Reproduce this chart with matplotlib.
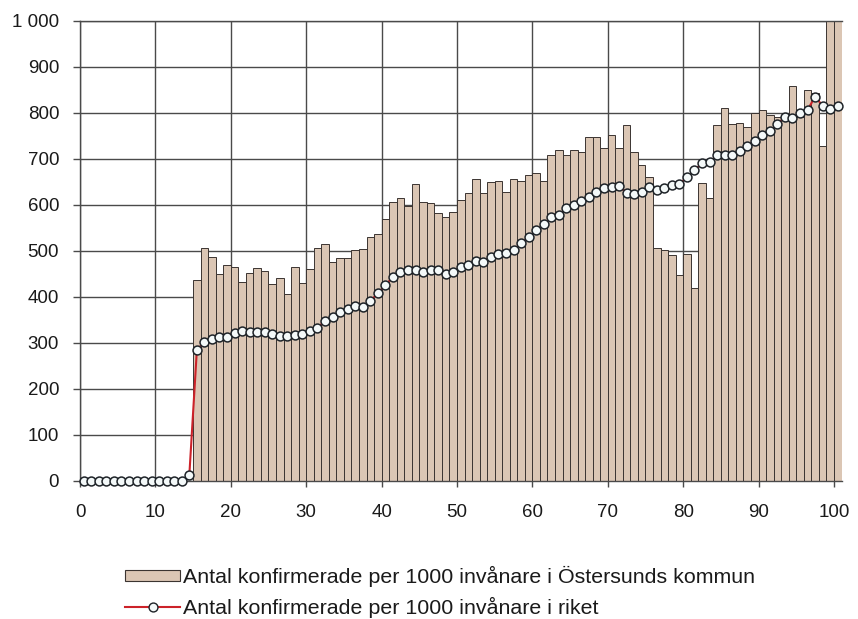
import matplotlib
matplotlib.use("Agg")
import matplotlib.pyplot as plt
from matplotlib.patches import Patch
from matplotlib.lines import Line2D
from matplotlib.ticker import FuncFormatter

plt.rcParams['font.family'] = ['Liberation Sans', 'DejaVu Sans']

# ---- data -------------------------------------------------------------
ages = list(range(101))

kommun = [0] * 15 + [
    436, 505, 486, 449, 469, 464, 431, 451, 462, 456,   # 15-24
    427, 440, 405, 464, 429, 460, 505, 514, 475, 485,   # 25-34
    485, 502, 503, 530, 536, 568, 605, 615, 598, 644,   # 35-44
    606, 603, 583, 574, 585, 610, 625, 656, 625, 650,   # 45-54
    651, 628, 655, 652, 665, 668, 652, 708, 719, 707,   # 55-64
    719, 714, 748, 748, 724, 752, 724, 773, 715, 686,   # 65-74
    660, 505, 501, 491, 447, 492, 418, 647, 615, 773,   # 75-84
    811, 775, 778, 770, 799, 806, 795, 791, 784, 859,   # 85-94
    791, 850, 842, 727, 1000, 1000,                     # 95-100
]

riket = [0] * 14 + [
    12,                                                 # 14
    284, 302, 308, 312, 313, 322, 326, 323, 324, 324,   # 15-24
    318, 315, 315, 316, 318, 326, 333, 347, 355, 366,   # 25-34
    373, 380, 378, 391, 407, 425, 443, 454, 457, 457,   # 35-44
    454, 459, 457, 449, 454, 464, 469, 478, 476, 487,   # 45-54
    493, 496, 502, 516, 529, 544, 557, 574, 578, 592,   # 55-64
    599, 607, 617, 628, 636, 638, 641, 626, 623, 628,   # 65-74
    638, 633, 637, 643, 645, 660, 675, 690, 693, 707,   # 75-84
    707, 707, 717, 728, 739, 751, 760, 775, 791, 788,   # 85-94
    800, 806, 835, 815, 807, 815,                       # 95-100
]

x_tick_labels = ["0", "10", "20", "30", "40", "50", "60", "70", "80", "90", "100"]
y_ticks = [0, 100, 200, 300, 400, 500, 600, 700, 800, 900, 1000]

label_kommun = "Antal konfirmerade per 1000 invånare i Östersunds kommun"
label_riket = "Antal konfirmerade per 1000 invånare i riket"

# ---- figure -----------------------------------------------------------
W, H = 858, 619
fig = plt.figure(figsize=(W / 100, H / 100), dpi=100)
fig.patch.set_facecolor("white")
ax = fig.add_axes([80 / W, 1 - 480.7 / H, (841.5 - 80) / W, (480.7 - 20.7) / H])

bar_color = "#dbc6b4"
bar_edge = "#3b3431"
line_color = "#cc2229"
marker_edge = "#1e2328"
marker_face = "#f4f9f9"
grid_color = "#4a4a4a"

ax.bar(ages, kommun, width=1.0, color=bar_color, edgecolor=bar_edge,
       linewidth=0.7, zorder=2)
ax.plot(ages, riket, color=line_color, lw=1.5, marker="o", ms=6.4,
        mfc=marker_face, mec=marker_edge, mew=1.1, zorder=3, clip_on=False)

ax.set_xlim(-0.5, 100.5)
ax.set_ylim(0, 1000)

xt = [10 * i - 0.5 for i in range(len(x_tick_labels))]
ax.set_xticks(xt)
ax.set_xticklabels(x_tick_labels)
ax.set_yticks(y_ticks)
ax.yaxis.set_major_formatter(FuncFormatter(
    lambda v, p: f"{int(v):,}".replace(",", " ")))

ax.set_axisbelow(True)
ax.grid(True, color=grid_color, lw=1.0)

ax.spines["right"].set_visible(False)
for s in ["left", "bottom", "top"]:
    ax.spines[s].set_color(grid_color)
    ax.spines[s].set_linewidth(1.0)

ax.tick_params(axis="y", direction="out", length=5, width=1.0,
               color=grid_color, labelsize=13.5, pad=10, labelcolor="#1a1a1a")
ax.tick_params(axis="x", direction="out", length=4, width=1.0,
               color=grid_color, labelsize=13.5, pad=13, labelcolor="#1a1a1a")

# ---- legend -----------------------------------------------------------
handles = [
    Patch(facecolor=bar_color, edgecolor=bar_edge, linewidth=0.8),
    Line2D([0], [0], color=line_color, lw=1.5, marker="o", ms=6.4,
           mfc=marker_face, mec=marker_edge, mew=1.0),
]
fig.legend(handles, [label_kommun, label_riket], loc="upper left",
           bbox_to_anchor=(114 / W, 1 - 555 / H), frameon=False,
           fontsize=15.4, handlelength=2.6, handletextpad=0.12,
           borderpad=0, labelspacing=0.47, handleheight=0.4,
           labelcolor="#1a1a1a")

fig.savefig("out.png", dpi=100, facecolor="white")
